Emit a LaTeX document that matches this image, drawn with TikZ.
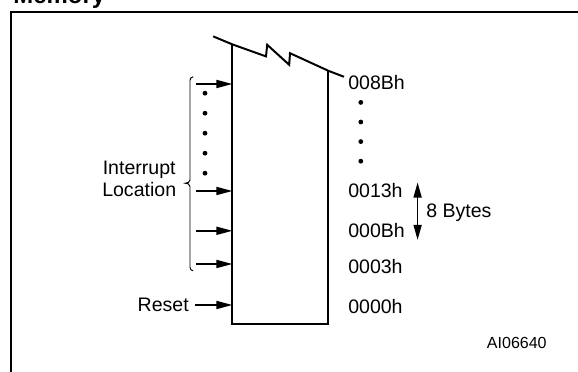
\documentclass[tikz,border=0pt]{standalone}
\usepackage{fontspec}
\setmainfont{Liberation Sans}
\usetikzlibrary{positioning}
\usetikzlibrary{arrows.meta}

\begin{document}
\begin{tikzpicture}[
	arr/.style={line width=1.2pt, -{Triangle[length=0.4cm,width=0.2cm]}},
	lbl/.style={inner sep=0pt, font=\fontsize{13.9}{15.6}\selectfont},
	dot/.style={circle, fill, inner sep=0pt, minimum size=0.12cm}
	]
				\useasboundingbox (0,0) rectangle (14.45,9.3);
				% frame and title
				\draw[line width=1.4pt] (0.275,0) -- (0.275,9.0) -- (14.45,9.0);
				\node[anchor=base west, inner sep=0pt, font=\fontsize{17}{20}\selectfont\bfseries] (title) at (0.33,9.2) {Memory};
				
				% memory block
				\coordinate (bl) at (5.81,1.19);
				\coordinate (br) at (8.21,1.19);
				\coordinate (tl) at (5.81,8.19);
				\coordinate (tr) at (8.21,7.53);
				\draw[line width=1.4pt] (5.33,8.39) -- (tl) -- (6.65,7.89) -- (6.68,8.18) -- (7.23,7.68) -- (7.25,7.97) -- (tr) -- (8.60,7.38);
				\draw[line width=1.4pt] (tl) -- (bl) -- (br) -- (tr);
				
				% inputs
				\coordinate (i0) at (4.875,1.675);
				\coordinate (i1) at (4.9,2.7);
				\coordinate (i2) at (4.9,3.53);
				\coordinate (i3) at (4.9,4.525);
				\coordinate (i4) at (4.9,7.2);
				\draw[arr] (i0) -- (i0 -| bl);
				\draw[arr] (i1) -- (i1 -| bl);
				\draw[arr] (i2) -- (i2 -| bl);
				\draw[arr] (i3) -- (i3 -| bl);
				\draw[arr] (i4) -- (i4 -| bl);
				
				\node[dot] (ld1) at (5.125,6.97) {};
				\node[dot] (ld2) at (5.125,6.47) {};
				\node[dot] (ld3) at (5.125,5.97) {};
				\node[dot] (ld4) at (5.125,5.47) {};
				\node[dot] (ld5) at (5.125,4.97) {};
				
				% brace
				\draw[line width=0.7pt] (4.83,7.38) to[out=180,in=90] (4.75,7.29) -- (4.75,4.80) to[out=-90,in=0] (4.63,4.72) to[out=0,in=90] (4.75,4.64) -- (4.75,2.62) to[out=-90,in=180] (4.83,2.53);
				\node[lbl, align=center] (intr) at (3.48,4.83) {Interrupt\\Location};
				\node[lbl, left=0.15cm of i0] (reset) {Reset};
				
				% addresses
				\node[lbl, anchor=base west] (a008B) at (8.70,7.06) {008Bh};
				\node[lbl, anchor=base west] (a0013) at (8.70,4.355) {0013h};
				\node[lbl, anchor=base west] (a000B) at (8.70,3.355) {000Bh};
				\node[lbl, anchor=base west] (a0003) at (8.70,2.46) {0003h};
				\node[lbl, anchor=base west] (a0000) at (8.70,1.46) {0000h};
				
				\node[dot] (rd1) at (9.02,6.74) {};
				\node[dot] (rd2) at (9.02,6.25) {};
				\node[dot] (rd3) at (9.02,5.76) {};
				\node[dot] (rd4) at (9.02,5.27) {};
				
				\coordinate (b1) at (10.44,4.74);
				\coordinate (b0) at (10.44,3.30);
				\draw[line width=1.2pt, {Triangle[length=0.38cm,width=0.2cm]}-{Triangle[length=0.38cm,width=0.2cm]}] (b1) -- (b0);
				\node[lbl, anchor=base west] (bytes) at (10.65,3.855) {8 Bytes};
				
				\node[inner sep=0pt, font=\fontsize{11.4}{13}\selectfont] (code) at (12.92,0.72) {AI06640};
			\end{tikzpicture}
\end{document}
